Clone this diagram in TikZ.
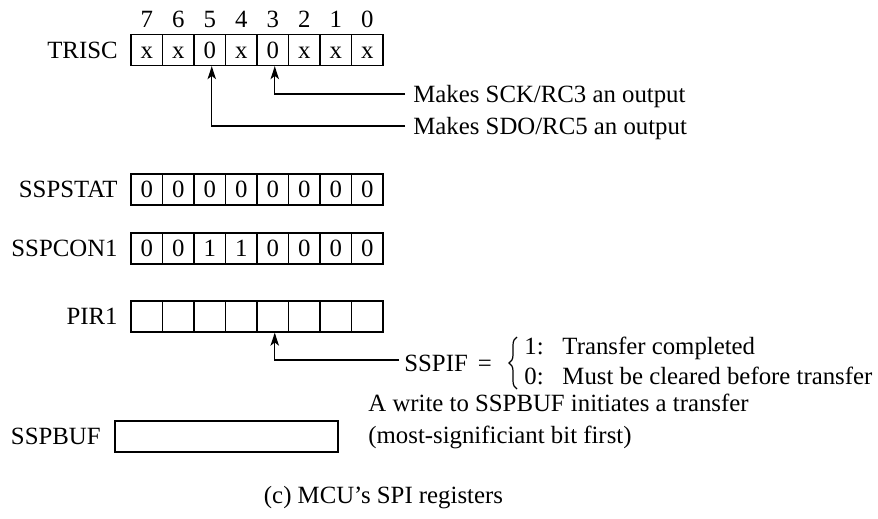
\documentclass[tikz,border=0pt]{standalone}
\usepackage{fontspec}
\setmainfont{Liberation Serif}
\usetikzlibrary{arrows.meta,decorations.pathreplacing}
\begin{document}
\begin{tikzpicture}[x=0.5pt,y=-0.5pt,
  every node/.style={font=\fontsize{12.4}{15}\selectfont},
  txt/.style={inner sep=0pt, text height=8.2pt, text depth=0pt},
  bitcell/.style={txt, draw, line width=0.65pt, minimum width=15.75pt,
    minimum height=15.5pt},
  pointer/.style={line width=0.65pt, -{Stealth[length=6.5pt,width=4.2pt,inset=1.6pt]}},
]
\useasboundingbox (0,0) rectangle (878,519);

% bit numbers above the registers
\foreach \b [count=\i from 0] in {7,6,5,4,3,2,1,0}
  \node[txt] (bitno\b) at (146.75+31.5*\i,19) {\b};

% 8-bit registers, one cell per bit (bit 7 on the left)
\foreach \reg/\yc/\vals in {trisc/50/{x,x,0,x,0,x,x,x},
                            sspstat/189.5/{0,0,0,0,0,0,0,0},
                            sspcon/248.5/{0,0,1,1,0,0,0,0},
                            pir/316.5/{{},{},{},{},{},{},{},{}}} {
  \foreach \v [count=\i from 0] in \vals {
    \pgfmathtruncatemacro\bit{7-\i}
    \node[bitcell] (\reg\bit) at (146.75+31.5*\i,\yc) {\v};
  }
}

% register names
\node[txt,anchor=east] (trisclbl)   at (118,50)    {TRISC};
\node[txt,anchor=east] (sspstatlbl) at (118,189.5) {SSPSTAT};
\node[txt,anchor=east] (sspconlbl)  at (118,248.5) {SSPCON1};
\node[txt,anchor=east] (pirlbl)     at (118,316.5) {PIR1};
\node[txt,anchor=east] (sspbuflbl)  at (101,436.5) {SSPBUF};

% the buffer register
\node[draw,line width=0.65pt,minimum width=111.5pt,minimum height=15.5pt,
      inner sep=0pt] (sspbuf) at (226.5,436.5) {};

% TRISC notes
\node[txt,anchor=west] (sckinfo) at (413,94)  {Makes SCK/RC3 an output};
\node[txt,anchor=west] (sdoinfo) at (413,126) {Makes SDO/RC5 an output};
\draw[pointer] ([xshift=-4pt]sckinfo.west) -| ([xshift=1pt]trisc3.south);
\draw[pointer] ([xshift=-4pt]sdoinfo.west) -| ([xshift=1pt]trisc5.south);

% SSPIF flag with its two meanings
\node[txt,anchor=west] (sspif) at (404,363) {SSPIF\hspace{5pt}=};
\draw[line width=0.6pt, decorate, decoration={brace, amplitude=4pt}]
  (517,389) -- (517,337);
\node[anchor=west,inner sep=0pt] (sspifcases) at (524,363)
  {\begin{tabular}{@{}l@{\hspace{9.4pt}}l@{}}
     1: & Transfer completed\\
     0: & Must be cleared before transfer
   \end{tabular}};
\draw[pointer] ([xshift=-2.5pt,yshift=1.5pt]sspif.west) -| ([xshift=1pt]pir3.south);

% SSPBUF note
\node[txt,anchor=west] (bufnoteA) at (368,403) {A write to SSPBUF initiates a transfer};
\node[txt,anchor=west] (bufnoteB) at (368,435) {(most-significiant bit first)};

% caption
\node[txt] (caption) at (383.5,495) {(c) MCU's SPI registers};
\end{tikzpicture}
\end{document}
